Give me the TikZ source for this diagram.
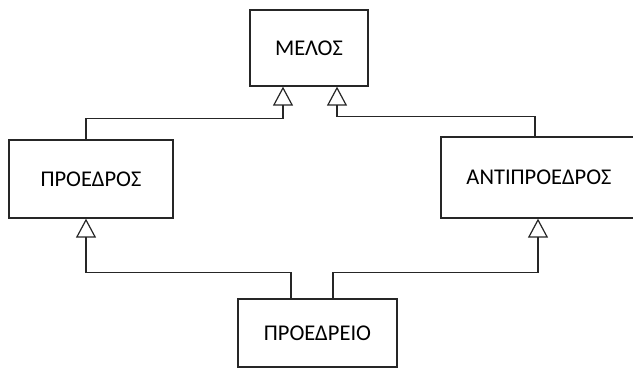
\documentclass[tikz,border=0pt]{standalone}
\usepackage{fontspec}
\setmainfont{Carlito}
\usetikzlibrary{arrows.meta}
\begin{document}
\begin{tikzpicture}[x=1pt,y=-1pt,
  cls/.style={draw=black!85, line width=1.3pt, inner sep=0pt,
    font=\fontsize{22.5}{27}\selectfont},
  gen/.style={draw=black!85, line width=1.2pt,
    -{Triangle[open, length=19pt, width=20pt, line width=1.2pt]}}]
\useasboundingbox (0,0) rectangle (633,369);
% classes
\node[cls, minimum width=118pt, minimum height=76pt] (melos) at (309,48) {ΜΕΛΟΣ};
\node[cls, minimum width=164pt, minimum height=78pt] (proedros) at (91,179) {ΠΡΟΕΔΡΟΣ};
\node[cls, minimum width=196pt, minimum height=81pt] (anti) at (539,177.5) {ΑΝΤΙΠΡΟΕΔΡΟΣ};
\node[cls, minimum width=159pt, minimum height=68pt] (proedreio) at (317.5,333) {ΠΡΟΕΔΡΕΙΟ};
% generalisations
\draw[gen] ([xshift=-5pt]proedros.north) |- ([xshift=-26pt,yshift=-32pt]melos.south) -- ([xshift=-26pt]melos.south);
\draw[gen] ([xshift=-4pt]anti.north) |- ([xshift=28pt,yshift=-30pt]melos.south) -- ([xshift=28pt]melos.south);
\draw[gen] ([xshift=-26.5pt]proedreio.north) |- ([xshift=-5pt,yshift=-54pt]proedros.south) -- ([xshift=-5pt]proedros.south);
\draw[gen] ([xshift=15.5pt]proedreio.north) |- ([xshift=-1pt,yshift=-54pt]anti.south) -- ([xshift=-1pt]anti.south);
\end{tikzpicture}
\end{document}
